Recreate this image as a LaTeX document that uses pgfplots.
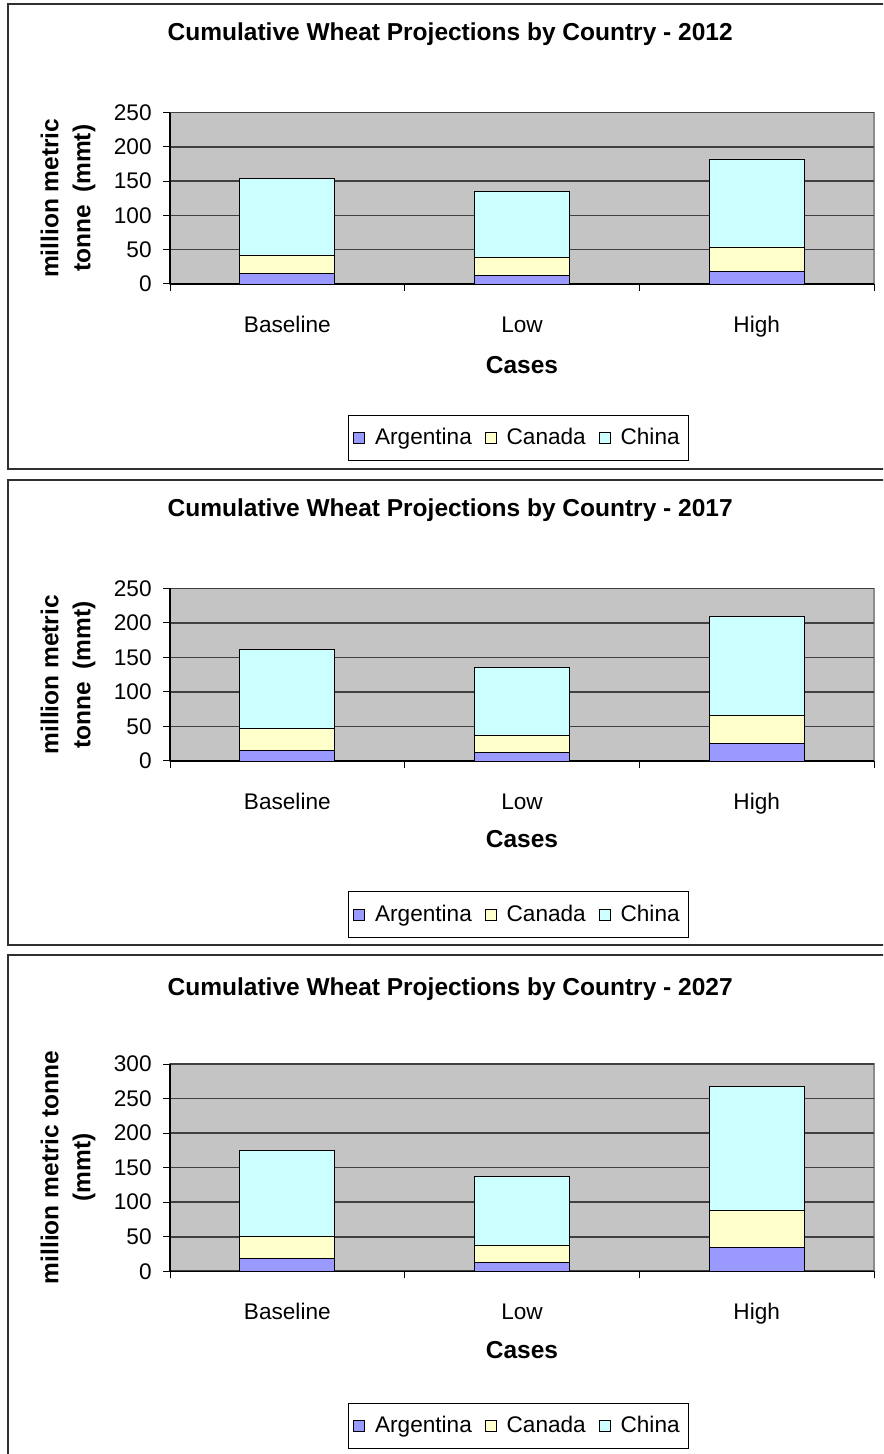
\documentclass[border=0pt]{standalone}
\usepackage{fontspec}
\setmainfont{Liberation Sans}
\usepackage{pgfplots}
\pgfplotsset{compat=1.18}

\definecolor{argcol}{HTML}{9999FF}
\definecolor{cancol}{HTML}{FFFFCC}
\definecolor{chncol}{HTML}{CCFFFF}
\definecolor{plotbg}{HTML}{C4C4C4}
\definecolor{gridcol}{HTML}{404040}
\definecolor{framecol}{HTML}{303030}

\newcommand\regfont{\fontsize{11.3}{13.5}\selectfont}
\newcommand\boldfont{\fontsize{12.25}{16}\selectfont\bfseries}

\pgfplotsset{
  sqleg/.style={legend image code/.code={%
      \draw[##1, draw=black, line width=0.4pt] (0pt,-2.75pt) rectangle (5.5pt,2.75pt);}},
  wheat/.style={
    scale only axis, width=352pt,
    ybar stacked, bar width=0.405,
    xmin=0.5, xmax=3.5, ymin=0,
    xtick={1,2,3}, xticklabels={Baseline,Low,High},
    minor xtick={0.5,1.5,2.5,3.5},
    major x tick style={draw=none},
    tick align=outside,
    major tick length=3.5pt, minor tick length=3.5pt,
    tick style={black, line width=0.5pt},
    axis x line*=bottom, axis y line*=left,
    axis line style={black, line width=0.6pt},
    axis background/.style={fill=plotbg, draw=black!45, line width=0.6pt},
    ymajorgrids, grid style={gridcol, line width=0.8pt},
    /pgf/number format/assume math mode=true,
    yticklabel style={font=\regfont, anchor=east, inner sep=0pt, xshift=-5.5pt},
    xticklabel style={font=\regfont, anchor=base, yshift=-20.7pt},
    title style={font=\boldfont, at={(axis description cs:0.398,1)}, anchor=base},
    xlabel style={font=\boldfont, at={(axis description cs:0.5,0)}, anchor=base, yshift=-43.5pt},
    ylabel style={font=\boldfont, align=center, at={(axis description cs:-0.1449,0.5)}, anchor=center},
    xlabel={Cases},
    legend columns=-1,
    legend style={draw=black, line width=0.5pt, fill=white, font=\regfont,
      at={(axis description cs:0.495,0)}, anchor=center,
      inner xsep=2.5pt, inner ysep=4.5pt,
      /tikz/every odd column/.append style={column sep=3pt},
      /tikz/every even column/.append style={column sep=4.5pt}},
  }
}

\begin{document}
\begin{tikzpicture}
\useasboundingbox (0pt,0pt) rectangle (441.5pt,727pt);
\clip (0pt,0pt) rectangle (441.5pt,727pt);

% chart frames
\draw[framecol, line width=0.8pt] (4pt,725pt) rectangle (460pt,492.5pt);
\draw[framecol, line width=0.8pt] (4pt,487pt) rectangle (460pt,254.5pt);
\draw[framecol, line width=0.8pt] (4pt,249.5pt) rectangle (460pt,-10pt);

% 2012
\begin{axis}[wheat, at={(85pt,585pt)}, anchor=south west,
  height=85.7pt, ymax=250, ytick={0,50,...,250},
  title={Cumulative Wheat Projections by Country - 2012},
  title style={yshift=30.2pt},
  xlabel style={yshift=-1.5pt},
  ylabel={million metric\\tonne\enspace(mmt)},
  legend style={yshift=-77pt}]
\addplot[fill=argcol, draw=black, sqleg] coordinates {(1,15.1) (2,12.2) (3,18.0)};
\addplot[fill=cancol, draw=black, sqleg] coordinates {(1,26.3) (2,26.3) (3,36.0)};
\addplot[fill=chncol, draw=black, sqleg] coordinates {(1,112.1) (2,96.5) (3,128.3)};
\legend{Argentina,Canada,China}
\end{axis}

% 2017
\begin{axis}[wheat, at={(85pt,346.5pt)}, anchor=south west,
  height=86.3pt, ymax=250, ytick={0,50,...,250},
  title={Cumulative Wheat Projections by Country - 2017},
  title style={yshift=29.7pt},
  ylabel={million metric\\tonne\enspace(mmt)},
  legend style={yshift=-76.75pt}]
\addplot[fill=argcol, draw=black, sqleg] coordinates {(1,15.4) (2,12.5) (3,25.1)};
\addplot[fill=cancol, draw=black, sqleg] coordinates {(1,31.9) (2,25.1) (3,41.0)};
\addplot[fill=chncol, draw=black, sqleg] coordinates {(1,113.9) (2,98.4) (3,142.9)};
\legend{Argentina,Canada,China}
\end{axis}

% 2027
\begin{axis}[wheat, at={(85pt,91.35pt)}, anchor=south west,
  height=103.65pt, ymax=300, ytick={0,50,...,300},
  title={Cumulative Wheat Projections by Country - 2027},
  title style={yshift=28.2pt},
  ylabel={million metric tonne\\(mmt)},
  legend style={yshift=-77.35pt}]
\addplot[fill=argcol, draw=black, sqleg] coordinates {(1,18.8) (2,12.5) (3,34.7)};
\addplot[fill=cancol, draw=black, sqleg] coordinates {(1,31.8) (2,25.6) (3,54.0)};
\addplot[fill=chncol, draw=black, sqleg] coordinates {(1,124.4) (2,99.3) (3,178.9)};
\legend{Argentina,Canada,China}
\end{axis}
\end{tikzpicture}
\end{document}
